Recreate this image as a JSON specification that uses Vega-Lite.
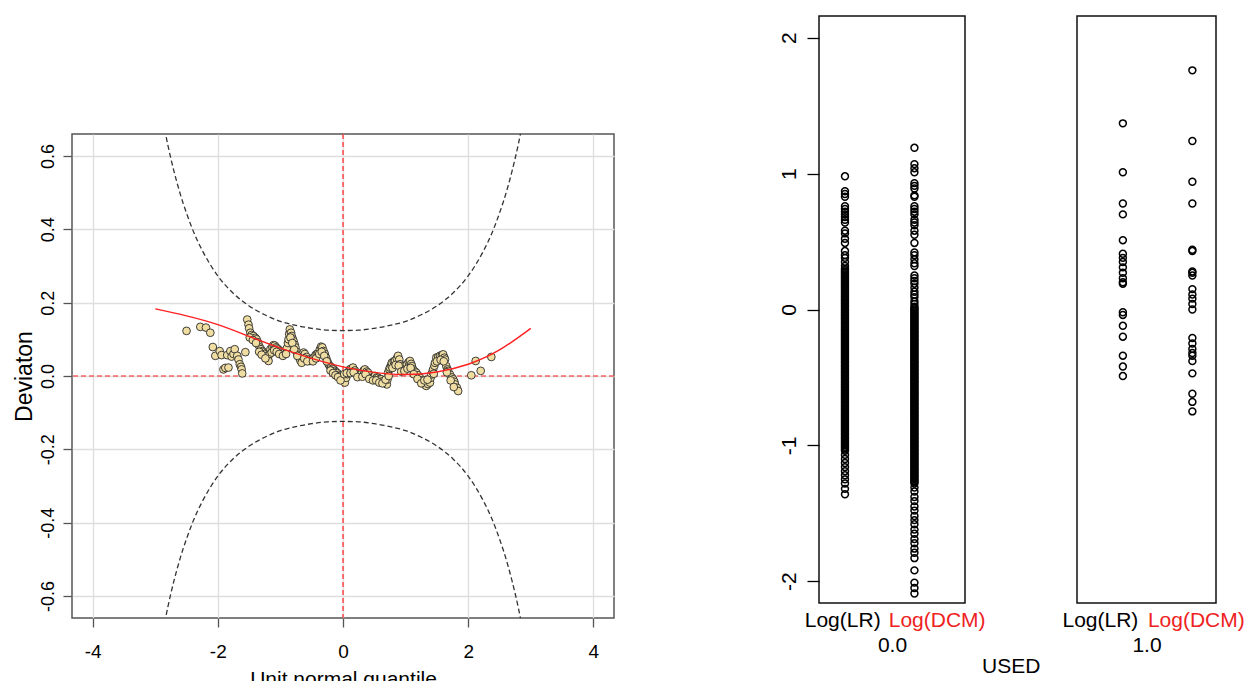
{
"$schema": "https://vega.github.io/schema/vega-lite/v6.json",
"background": "white",
"padding": {"left": 12, "top": 15, "right": 0, "bottom": 0},
"spacing": 161,
"config": {
  "font": "Liberation Sans",
  "axis": {"labelFont": "Liberation Sans", "titleFont": "Liberation Sans", "labelColor": "#000000", "titleColor": "#000000", "titleFontWeight": "normal"},
  "title": {"font": "Liberation Sans", "fontWeight": "normal", "color": "#000000"}
},
"datasets": {
  "ref": [{"x": 0, "y": 0}],
  "upper": [
    {"x": -2.85, "y": 0.673}, {"x": -2.8, "y": 0.631}, {"x": -2.7, "y": 0.558}, {"x": -2.6, "y": 0.496}, {"x": -2.5, "y": 0.444}, {"x": -2.375, "y": 0.388}, {"x": -2.25, "y": 0.343}, {"x": -2.125, "y": 0.305}, {"x": -2, "y": 0.273}, {"x": -1.75, "y": 0.225}, {"x": -1.5, "y": 0.191}, {"x": -1.25, "y": 0.167}, {"x": -1, "y": 0.149}, {"x": -0.75, "y": 0.138}, {"x": -0.5, "y": 0.13}, {"x": -0.25, "y": 0.125}, {"x": 0, "y": 0.124},
    {"x": 0.25, "y": 0.125}, {"x": 0.5, "y": 0.13}, {"x": 0.75, "y": 0.138}, {"x": 1, "y": 0.149}, {"x": 1.25, "y": 0.167}, {"x": 1.5, "y": 0.191}, {"x": 1.75, "y": 0.225}, {"x": 2, "y": 0.273}, {"x": 2.125, "y": 0.305}, {"x": 2.25, "y": 0.343}, {"x": 2.375, "y": 0.388}, {"x": 2.5, "y": 0.444}, {"x": 2.6, "y": 0.496}, {"x": 2.7, "y": 0.558}, {"x": 2.8, "y": 0.631}, {"x": 2.85, "y": 0.673}
  ],
  "lower": [
    {"x": -2.85, "y": -0.673}, {"x": -2.8, "y": -0.631}, {"x": -2.7, "y": -0.558}, {"x": -2.6, "y": -0.496}, {"x": -2.5, "y": -0.444}, {"x": -2.375, "y": -0.388}, {"x": -2.25, "y": -0.343}, {"x": -2.125, "y": -0.305}, {"x": -2, "y": -0.273}, {"x": -1.75, "y": -0.225}, {"x": -1.5, "y": -0.191}, {"x": -1.25, "y": -0.167}, {"x": -1, "y": -0.149}, {"x": -0.75, "y": -0.138}, {"x": -0.5, "y": -0.13}, {"x": -0.25, "y": -0.125}, {"x": 0, "y": -0.124},
    {"x": 0.25, "y": -0.125}, {"x": 0.5, "y": -0.13}, {"x": 0.75, "y": -0.138}, {"x": 1, "y": -0.149}, {"x": 1.25, "y": -0.167}, {"x": 1.5, "y": -0.191}, {"x": 1.75, "y": -0.225}, {"x": 2, "y": -0.273}, {"x": 2.125, "y": -0.305}, {"x": 2.25, "y": -0.343}, {"x": 2.375, "y": -0.388}, {"x": 2.5, "y": -0.444}, {"x": 2.6, "y": -0.496}, {"x": 2.7, "y": -0.558}, {"x": 2.8, "y": -0.631}, {"x": 2.85, "y": -0.673}
  ],
  "fit": [
    {"x": -3, "y": 0.183}, {"x": -2.5, "y": 0.164}, {"x": -2, "y": 0.14}, {"x": -1.5, "y": 0.108}, {"x": -1, "y": 0.076}, {"x": -0.5, "y": 0.048}, {"x": 0, "y": 0.025}, {"x": 0.5, "y": 0.01}, {"x": 1, "y": 0.004}, {"x": 1.5, "y": 0.011}, {"x": 2, "y": 0.032}, {"x": 2.5, "y": 0.071}, {"x": 3, "y": 0.13}
  ],
  "worm": [
    {"x": -2.5, "y": 0.123}, {"x": -2.28, "y": 0.134}, {"x": -2.19, "y": 0.132}, {"x": -2.12, "y": 0.118}, {"x": -2.08, "y": 0.079}, {"x": -2.04, "y": 0.055}, {"x": -1.97, "y": 0.068}, {"x": -1.94, "y": 0.057}, {"x": -1.91, "y": 0.018}, {"x": -1.88, "y": 0.022}, {"x": -1.85, "y": 0.057}, {"x": -1.83, "y": 0.023}, {"x": -1.8, "y": 0.068}, {"x": -1.78, "y": 0.053}, {"x": -1.75, "y": 0.06}, {"x": -1.73, "y": 0.073}, {"x": -1.69, "y": 0.055}, {"x": -1.67, "y": 0.045}, {"x": -1.65, "y": 0.032}, {"x": -1.63, "y": 0.025}, {"x": -1.62, "y": 0.018}, {"x": -1.61, "y": 0.007}, {"x": -1.56, "y": 0.065},
    {"x": -1.53, "y": 0.154}, {"x": -1.51, "y": 0.14}, {"x": -1.5, "y": 0.13}, {"x": -1.48, "y": 0.118}, {"x": -1.46, "y": 0.112}, {"x": -1.43, "y": 0.109}, {"x": -1.4, "y": 0.104}, {"x": -1.38, "y": 0.1}, {"x": -1.36, "y": 0.092}, {"x": -1.35, "y": 0.086}, {"x": -1.33, "y": 0.078}, {"x": -1.31, "y": 0.073}, {"x": -1.29, "y": 0.068}, {"x": -1.27, "y": 0.064}, {"x": -1.25, "y": 0.06}, {"x": -1.22, "y": 0.055}, {"x": -1.2, "y": 0.046}, {"x": -1.19, "y": 0.041}, {"x": -1.17, "y": 0.06}, {"x": -1.16, "y": 0.073}, {"x": -1.13, "y": 0.08}, {"x": -1.11, "y": 0.084}, {"x": -1.09, "y": 0.083}, {"x": -1.07, "y": 0.078}, {"x": -1.05, "y": 0.075}, {"x": -1.03, "y": 0.072}, {"x": -1.01, "y": 0.068}, {"x": -0.98, "y": 0.064}, {"x": -0.95, "y": 0.062}, {"x": -0.92, "y": 0.068}, {"x": -0.9, "y": 0.075}, {"x": -0.88, "y": 0.09}, {"x": -0.87, "y": 0.1}, {"x": -0.86, "y": 0.115}, {"x": -0.85, "y": 0.127}, {"x": -0.83, "y": 0.118}, {"x": -0.82, "y": 0.109}, {"x": -0.8, "y": 0.1}, {"x": -0.79, "y": 0.095}, {"x": -0.77, "y": 0.085}, {"x": -0.76, "y": 0.078}, {"x": -0.74, "y": 0.066}, {"x": -0.72, "y": 0.058}, {"x": -0.7, "y": 0.05}, {"x": -0.68, "y": 0.042}, {"x": -0.66, "y": 0.036}, {"x": -0.64, "y": 0.055}, {"x": -0.63, "y": 0.064}, {"x": -0.61, "y": 0.06}, {"x": -0.58, "y": 0.052}, {"x": -0.55, "y": 0.045}, {"x": -0.53, "y": 0.041}, {"x": -0.5, "y": 0.045}, {"x": -0.47, "y": 0.05}, {"x": -0.44, "y": 0.057}, {"x": -0.42, "y": 0.06}, {"x": -0.4, "y": 0.062}, {"x": -0.37, "y": 0.072}, {"x": -0.35, "y": 0.08}, {"x": -0.33, "y": 0.078}, {"x": -0.31, "y": 0.068}, {"x": -0.29, "y": 0.06}, {"x": -0.27, "y": 0.05}, {"x": -0.25, "y": 0.04}, {"x": -0.23, "y": 0.032}, {"x": -0.21, "y": 0.027}, {"x": -0.19, "y": 0.024}, {"x": -0.17, "y": 0.02}, {"x": -0.15, "y": 0.018}, {"x": -0.13, "y": 0.014}, {"x": -0.11, "y": 0.01}, {"x": -0.09, "y": 0.008}, {"x": -0.07, "y": 0.003}, {"x": -0.05, "y": 0}, {"x": -0.03, "y": -0.005}, {"x": -0.01, "y": -0.01}, {"x": 0.01, "y": -0.009}, {"x": 0.03, "y": -0.018}, {"x": 0.05, "y": -0.005}, {"x": 0.07, "y": 0.005}, {"x": 0.09, "y": 0.012}, {"x": 0.11, "y": 0.018}, {"x": 0.13, "y": 0.02}, {"x": 0.16, "y": 0.023}, {"x": 0.19, "y": 0.015}, {"x": 0.22, "y": 0.009}, {"x": 0.25, "y": 0.005}, {"x": 0.27, "y": 0.004}, {"x": 0.3, "y": 0.008}, {"x": 0.33, "y": 0.015}, {"x": 0.35, "y": 0.018}, {"x": 0.38, "y": 0.012}, {"x": 0.4, "y": 0.009}, {"x": 0.43, "y": 0.002}, {"x": 0.46, "y": -0.005}, {"x": 0.49, "y": -0.002}, {"x": 0.51, "y": 0}, {"x": 0.54, "y": -0.004}, {"x": 0.56, "y": -0.005}, {"x": 0.59, "y": -0.008}, {"x": 0.61, "y": -0.009}, {"x": 0.64, "y": -0.014}, {"x": 0.67, "y": -0.018}, {"x": 0.7, "y": -0.023}, {"x": 0.71, "y": -0.01}, {"x": 0.72, "y": 0.009}, {"x": 0.74, "y": 0.018}, {"x": 0.75, "y": 0.023}, {"x": 0.77, "y": 0.03}, {"x": 0.78, "y": 0.036}, {"x": 0.81, "y": 0.04}, {"x": 0.83, "y": 0.041}, {"x": 0.86, "y": 0.048}, {"x": 0.88, "y": 0.055}, {"x": 0.9, "y": 0.045}, {"x": 0.91, "y": 0.032}, {"x": 0.94, "y": 0.025}, {"x": 0.96, "y": 0.023}, {"x": 0.99, "y": 0.028}, {"x": 1.02, "y": 0.032}, {"x": 1.05, "y": 0.038}, {"x": 1.07, "y": 0.041}, {"x": 1.09, "y": 0.033}, {"x": 1.1, "y": 0.027}, {"x": 1.12, "y": 0.018}, {"x": 1.15, "y": 0.012}, {"x": 1.17, "y": 0.009}, {"x": 1.2, "y": 0.002}, {"x": 1.23, "y": -0.005}, {"x": 1.26, "y": -0.012}, {"x": 1.28, "y": -0.018}, {"x": 1.31, "y": -0.024}, {"x": 1.33, "y": -0.027}, {"x": 1.36, "y": -0.022}, {"x": 1.39, "y": -0.018}, {"x": 1.4, "y": -0.005}, {"x": 1.41, "y": 0.004}, {"x": 1.43, "y": 0.012}, {"x": 1.44, "y": 0.018}, {"x": 1.46, "y": 0.028}, {"x": 1.47, "y": 0.036}, {"x": 1.49, "y": 0.05}, {"x": 1.52, "y": 0.052}, {"x": 1.55, "y": 0.055}, {"x": 1.58, "y": 0.057}, {"x": 1.6, "y": 0.059}, {"x": 1.62, "y": 0.05}, {"x": 1.63, "y": 0.045}, {"x": 1.65, "y": 0.027}, {"x": 1.67, "y": 0.018}, {"x": 1.68, "y": 0.014}, {"x": 1.71, "y": 0.004}, {"x": 1.74, "y": -0.004}, {"x": 1.76, "y": -0.009}, {"x": 1.78, "y": -0.016}, {"x": 1.79, "y": -0.023}, {"x": 1.82, "y": -0.032}, {"x": 1.84, "y": -0.041},
    {"x": 2.05, "y": 0.002}, {"x": 2.12, "y": 0.041}, {"x": 2.2, "y": 0.014}, {"x": 2.37, "y": 0.052},
    {"x": -1.49, "y": 0.105}, {"x": -1.44, "y": 0.098}, {"x": -1.39, "y": 0.09}, {"x": -1.34, "y": 0.066}, {"x": -1.3, "y": 0.058}, {"x": -1.24, "y": 0.048}, {"x": -1.14, "y": 0.064}, {"x": -1.1, "y": 0.07}, {"x": -1.06, "y": 0.066}, {"x": -1.02, "y": 0.06}, {"x": -0.96, "y": 0.055}, {"x": -0.91, "y": 0.06}, {"x": -0.84, "y": 0.105}, {"x": -0.81, "y": 0.09}, {"x": -0.78, "y": 0.072}, {"x": -0.73, "y": 0.055}, {"x": -0.62, "y": 0.048}, {"x": -0.57, "y": 0.04}, {"x": -0.48, "y": 0.04}, {"x": -0.43, "y": 0.048}, {"x": -0.38, "y": 0.06}, {"x": -0.34, "y": 0.066}, {"x": -0.3, "y": 0.055}, {"x": -0.26, "y": 0.04}, {"x": -0.2, "y": 0.015}, {"x": -0.16, "y": 0.008}, {"x": -0.12, "y": 0.002}, {"x": -0.08, "y": -0.003}, {"x": -0.04, "y": -0.012}, {"x": 0.02, "y": 0.005}, {"x": 0.06, "y": 0.008}, {"x": 0.12, "y": 0.008}, {"x": 0.17, "y": 0.01}, {"x": 0.23, "y": -0.003}, {"x": 0.31, "y": -0.002}, {"x": 0.36, "y": 0.005}, {"x": 0.42, "y": -0.008}, {"x": 0.48, "y": -0.012}, {"x": 0.53, "y": -0.012}, {"x": 0.58, "y": -0.018}, {"x": 0.63, "y": -0.02}, {"x": 0.68, "y": -0.01}, {"x": 0.73, "y": 0}, {"x": 0.79, "y": 0.022}, {"x": 0.84, "y": 0.03}, {"x": 0.89, "y": 0.028}, {"x": 0.93, "y": 0.012}, {"x": 0.98, "y": 0.014}, {"x": 1.03, "y": 0.02}, {"x": 1.08, "y": 0.022}, {"x": 1.13, "y": 0.005}, {"x": 1.19, "y": -0.008}, {"x": 1.25, "y": -0.02}, {"x": 1.3, "y": -0.012}, {"x": 1.35, "y": -0.01}, {"x": 1.45, "y": 0.006}, {"x": 1.5, "y": 0.04}, {"x": 1.56, "y": 0.044}, {"x": 1.61, "y": 0.04}, {"x": 1.66, "y": 0.01}, {"x": 1.72, "y": -0.012}, {"x": 1.77, "y": -0.03}
  ],
  "used0": [
    {"g": 1, "v": 0.98}, {"g": 1, "v": 0.87}, {"g": 1, "v": 0.85}, {"g": 1, "v": 0.83}, {"g": 1, "v": 0.76}, {"g": 1, "v": 0.74}, {"g": 1, "v": 0.72}, {"g": 1, "v": 0.7}, {"g": 1, "v": 0.68}, {"g": 1, "v": 0.66}, {"g": 1, "v": 0.64}, {"g": 1, "v": 0.58}, {"g": 1, "v": 0.56}, {"g": 1, "v": 0.52}, {"g": 1, "v": 0.49}, {"g": 1, "v": 0.43}, {"g": 1, "v": 0.4}, {"g": 1, "v": 0.38}, {"g": 1, "v": 0.35}, {"g": 1, "v": 0.32},
    {"g": 1, "v": 0.3}, {"g": 1, "v": 0.29}, {"g": 1, "v": 0.28}, {"g": 1, "v": 0.27}, {"g": 1, "v": 0.26}, {"g": 1, "v": 0.25}, {"g": 1, "v": 0.24}, {"g": 1, "v": 0.23}, {"g": 1, "v": 0.22}, {"g": 1, "v": 0.21},
    {"g": 1, "v": 0.2}, {"g": 1, "v": 0.19}, {"g": 1, "v": 0.18}, {"g": 1, "v": 0.17}, {"g": 1, "v": 0.16}, {"g": 1, "v": 0.15}, {"g": 1, "v": 0.14}, {"g": 1, "v": 0.13}, {"g": 1, "v": 0.12}, {"g": 1, "v": 0.11},
    {"g": 1, "v": 0.1}, {"g": 1, "v": 0.09}, {"g": 1, "v": 0.08}, {"g": 1, "v": 0.07}, {"g": 1, "v": 0.06}, {"g": 1, "v": 0.05}, {"g": 1, "v": 0.04}, {"g": 1, "v": 0.03}, {"g": 1, "v": 0.02}, {"g": 1, "v": 0.01},
    {"g": 1, "v": 0}, {"g": 1, "v": -0.01}, {"g": 1, "v": -0.02}, {"g": 1, "v": -0.03}, {"g": 1, "v": -0.04}, {"g": 1, "v": -0.05}, {"g": 1, "v": -0.06}, {"g": 1, "v": -0.07}, {"g": 1, "v": -0.08}, {"g": 1, "v": -0.09},
    {"g": 1, "v": -0.1}, {"g": 1, "v": -0.11}, {"g": 1, "v": -0.12}, {"g": 1, "v": -0.13}, {"g": 1, "v": -0.14}, {"g": 1, "v": -0.15}, {"g": 1, "v": -0.16}, {"g": 1, "v": -0.17}, {"g": 1, "v": -0.18}, {"g": 1, "v": -0.19},
    {"g": 1, "v": -0.2}, {"g": 1, "v": -0.21}, {"g": 1, "v": -0.22}, {"g": 1, "v": -0.23}, {"g": 1, "v": -0.24}, {"g": 1, "v": -0.25}, {"g": 1, "v": -0.26}, {"g": 1, "v": -0.27}, {"g": 1, "v": -0.28}, {"g": 1, "v": -0.29},
    {"g": 1, "v": -0.3}, {"g": 1, "v": -0.31}, {"g": 1, "v": -0.32}, {"g": 1, "v": -0.33}, {"g": 1, "v": -0.34}, {"g": 1, "v": -0.35}, {"g": 1, "v": -0.36}, {"g": 1, "v": -0.37}, {"g": 1, "v": -0.38}, {"g": 1, "v": -0.39},
    {"g": 1, "v": -0.4}, {"g": 1, "v": -0.41}, {"g": 1, "v": -0.42}, {"g": 1, "v": -0.43}, {"g": 1, "v": -0.44}, {"g": 1, "v": -0.45}, {"g": 1, "v": -0.46}, {"g": 1, "v": -0.47}, {"g": 1, "v": -0.48}, {"g": 1, "v": -0.49},
    {"g": 1, "v": -0.5}, {"g": 1, "v": -0.51}, {"g": 1, "v": -0.52}, {"g": 1, "v": -0.53}, {"g": 1, "v": -0.54}, {"g": 1, "v": -0.55}, {"g": 1, "v": -0.56}, {"g": 1, "v": -0.57}, {"g": 1, "v": -0.58}, {"g": 1, "v": -0.59},
    {"g": 1, "v": -0.6}, {"g": 1, "v": -0.61}, {"g": 1, "v": -0.62}, {"g": 1, "v": -0.63}, {"g": 1, "v": -0.64}, {"g": 1, "v": -0.65}, {"g": 1, "v": -0.66}, {"g": 1, "v": -0.67}, {"g": 1, "v": -0.68}, {"g": 1, "v": -0.69},
    {"g": 1, "v": -0.7}, {"g": 1, "v": -0.71}, {"g": 1, "v": -0.72}, {"g": 1, "v": -0.73}, {"g": 1, "v": -0.74}, {"g": 1, "v": -0.75}, {"g": 1, "v": -0.76}, {"g": 1, "v": -0.77}, {"g": 1, "v": -0.78}, {"g": 1, "v": -0.79},
    {"g": 1, "v": -0.8}, {"g": 1, "v": -0.81}, {"g": 1, "v": -0.82}, {"g": 1, "v": -0.83}, {"g": 1, "v": -0.84}, {"g": 1, "v": -0.85}, {"g": 1, "v": -0.86}, {"g": 1, "v": -0.87}, {"g": 1, "v": -0.88}, {"g": 1, "v": -0.89},
    {"g": 1, "v": -0.9}, {"g": 1, "v": -0.91}, {"g": 1, "v": -0.92}, {"g": 1, "v": -0.93}, {"g": 1, "v": -0.94}, {"g": 1, "v": -0.95}, {"g": 1, "v": -0.96}, {"g": 1, "v": -0.97}, {"g": 1, "v": -0.98}, {"g": 1, "v": -0.99},
    {"g": 1, "v": -1}, {"g": 1, "v": -1.01}, {"g": 1, "v": -1.02}, {"g": 1, "v": -1.03}, {"g": 1, "v": -1.04},
    {"g": 1, "v": -1.07}, {"g": 1, "v": -1.1}, {"g": 1, "v": -1.13}, {"g": 1, "v": -1.16}, {"g": 1, "v": -1.19}, {"g": 1, "v": -1.22}, {"g": 1, "v": -1.25}, {"g": 1, "v": -1.28}, {"g": 1, "v": -1.32}, {"g": 1, "v": -1.36},
    {"g": 2, "v": 1.19}, {"g": 2, "v": 1.07}, {"g": 2, "v": 1.04}, {"g": 2, "v": 1.01}, {"g": 2, "v": 0.93}, {"g": 2, "v": 0.91}, {"g": 2, "v": 0.89}, {"g": 2, "v": 0.84}, {"g": 2, "v": 0.83}, {"g": 2, "v": 0.76}, {"g": 2, "v": 0.74}, {"g": 2, "v": 0.72}, {"g": 2, "v": 0.7}, {"g": 2, "v": 0.66}, {"g": 2, "v": 0.64}, {"g": 2, "v": 0.62}, {"g": 2, "v": 0.58}, {"g": 2, "v": 0.55}, {"g": 2, "v": 0.49}, {"g": 2, "v": 0.42}, {"g": 2, "v": 0.4}, {"g": 2, "v": 0.37}, {"g": 2, "v": 0.34}, {"g": 2, "v": 0.32}, {"g": 2, "v": 0.25}, {"g": 2, "v": 0.23}, {"g": 2, "v": 0.21}, {"g": 2, "v": 0.19}, {"g": 2, "v": 0.16}, {"g": 2, "v": 0.13}, {"g": 2, "v": 0.11}, {"g": 2, "v": 0.09}, {"g": 2, "v": 0.06}, {"g": 2, "v": 0.04},
    {"g": 2, "v": 0.02}, {"g": 2, "v": 0.01},
    {"g": 2, "v": 0}, {"g": 2, "v": -0.01}, {"g": 2, "v": -0.02}, {"g": 2, "v": -0.03}, {"g": 2, "v": -0.04}, {"g": 2, "v": -0.05}, {"g": 2, "v": -0.06}, {"g": 2, "v": -0.07}, {"g": 2, "v": -0.08}, {"g": 2, "v": -0.09},
    {"g": 2, "v": -0.1}, {"g": 2, "v": -0.11}, {"g": 2, "v": -0.12}, {"g": 2, "v": -0.13}, {"g": 2, "v": -0.14}, {"g": 2, "v": -0.15}, {"g": 2, "v": -0.16}, {"g": 2, "v": -0.17}, {"g": 2, "v": -0.18}, {"g": 2, "v": -0.19},
    {"g": 2, "v": -0.2}, {"g": 2, "v": -0.21}, {"g": 2, "v": -0.22}, {"g": 2, "v": -0.23}, {"g": 2, "v": -0.24}, {"g": 2, "v": -0.25}, {"g": 2, "v": -0.26}, {"g": 2, "v": -0.27}, {"g": 2, "v": -0.28}, {"g": 2, "v": -0.29},
    {"g": 2, "v": -0.3}, {"g": 2, "v": -0.31}, {"g": 2, "v": -0.32}, {"g": 2, "v": -0.33}, {"g": 2, "v": -0.34}, {"g": 2, "v": -0.35}, {"g": 2, "v": -0.36}, {"g": 2, "v": -0.37}, {"g": 2, "v": -0.38}, {"g": 2, "v": -0.39},
    {"g": 2, "v": -0.4}, {"g": 2, "v": -0.41}, {"g": 2, "v": -0.42}, {"g": 2, "v": -0.43}, {"g": 2, "v": -0.44}, {"g": 2, "v": -0.45}, {"g": 2, "v": -0.46}, {"g": 2, "v": -0.47}, {"g": 2, "v": -0.48}, {"g": 2, "v": -0.49},
    {"g": 2, "v": -0.5}, {"g": 2, "v": -0.51}, {"g": 2, "v": -0.52}, {"g": 2, "v": -0.53}, {"g": 2, "v": -0.54}, {"g": 2, "v": -0.55}, {"g": 2, "v": -0.56}, {"g": 2, "v": -0.57}, {"g": 2, "v": -0.58}, {"g": 2, "v": -0.59},
    {"g": 2, "v": -0.6}, {"g": 2, "v": -0.61}, {"g": 2, "v": -0.62}, {"g": 2, "v": -0.63}, {"g": 2, "v": -0.64}, {"g": 2, "v": -0.65}, {"g": 2, "v": -0.66}, {"g": 2, "v": -0.67}, {"g": 2, "v": -0.68}, {"g": 2, "v": -0.69},
    {"g": 2, "v": -0.7}, {"g": 2, "v": -0.71}, {"g": 2, "v": -0.72}, {"g": 2, "v": -0.73}, {"g": 2, "v": -0.74}, {"g": 2, "v": -0.75}, {"g": 2, "v": -0.76}, {"g": 2, "v": -0.77}, {"g": 2, "v": -0.78}, {"g": 2, "v": -0.79},
    {"g": 2, "v": -0.8}, {"g": 2, "v": -0.81}, {"g": 2, "v": -0.82}, {"g": 2, "v": -0.83}, {"g": 2, "v": -0.84}, {"g": 2, "v": -0.85}, {"g": 2, "v": -0.86}, {"g": 2, "v": -0.87}, {"g": 2, "v": -0.88}, {"g": 2, "v": -0.89},
    {"g": 2, "v": -0.9}, {"g": 2, "v": -0.91}, {"g": 2, "v": -0.92}, {"g": 2, "v": -0.93}, {"g": 2, "v": -0.94}, {"g": 2, "v": -0.95}, {"g": 2, "v": -0.96}, {"g": 2, "v": -0.97}, {"g": 2, "v": -0.98}, {"g": 2, "v": -0.99},
    {"g": 2, "v": -1}, {"g": 2, "v": -1.01}, {"g": 2, "v": -1.02}, {"g": 2, "v": -1.03}, {"g": 2, "v": -1.04}, {"g": 2, "v": -1.05}, {"g": 2, "v": -1.06}, {"g": 2, "v": -1.07}, {"g": 2, "v": -1.08}, {"g": 2, "v": -1.09},
    {"g": 2, "v": -1.1}, {"g": 2, "v": -1.11}, {"g": 2, "v": -1.12}, {"g": 2, "v": -1.13}, {"g": 2, "v": -1.14}, {"g": 2, "v": -1.15}, {"g": 2, "v": -1.16}, {"g": 2, "v": -1.17}, {"g": 2, "v": -1.18}, {"g": 2, "v": -1.19},
    {"g": 2, "v": -1.2}, {"g": 2, "v": -1.21}, {"g": 2, "v": -1.22}, {"g": 2, "v": -1.23}, {"g": 2, "v": -1.24}, {"g": 2, "v": -1.25}, {"g": 2, "v": -1.26}, {"g": 2, "v": -1.27}, {"g": 2, "v": -1.28},
    {"g": 2, "v": -1.31}, {"g": 2, "v": -1.34}, {"g": 2, "v": -1.38}, {"g": 2, "v": -1.41}, {"g": 2, "v": -1.45}, {"g": 2, "v": -1.48}, {"g": 2, "v": -1.52}, {"g": 2, "v": -1.55}, {"g": 2, "v": -1.58}, {"g": 2, "v": -1.62}, {"g": 2, "v": -1.65}, {"g": 2, "v": -1.69}, {"g": 2, "v": -1.72}, {"g": 2, "v": -1.76}, {"g": 2, "v": -1.79}, {"g": 2, "v": -1.83}, {"g": 2, "v": -1.92}, {"g": 2, "v": -2.01}, {"g": 2, "v": -2.05}, {"g": 2, "v": -2.09}
  ],
  "used1": [
    {"g": 5, "v": 1.37}, {"g": 5, "v": 1.01}, {"g": 5, "v": 0.78}, {"g": 5, "v": 0.7}, {"g": 5, "v": 0.51}, {"g": 5, "v": 0.41}, {"g": 5, "v": 0.38}, {"g": 5, "v": 0.35}, {"g": 5, "v": 0.31}, {"g": 5, "v": 0.27}, {"g": 5, "v": 0.23}, {"g": 5, "v": 0.2}, {"g": 5, "v": 0.19}, {"g": 5, "v": -0.02}, {"g": 5, "v": -0.04}, {"g": 5, "v": -0.12}, {"g": 5, "v": -0.2}, {"g": 5, "v": -0.34}, {"g": 5, "v": -0.42}, {"g": 5, "v": -0.49},
    {"g": 6, "v": 1.76}, {"g": 6, "v": 1.24}, {"g": 6, "v": 0.94}, {"g": 6, "v": 0.78}, {"g": 6, "v": 0.44}, {"g": 6, "v": 0.43}, {"g": 6, "v": 0.28}, {"g": 6, "v": 0.27}, {"g": 6, "v": 0.25}, {"g": 6, "v": 0.15}, {"g": 6, "v": 0.11}, {"g": 6, "v": 0.08}, {"g": 6, "v": 0.04}, {"g": 6, "v": 0}, {"g": 6, "v": -0.21}, {"g": 6, "v": -0.25}, {"g": 6, "v": -0.29}, {"g": 6, "v": -0.32}, {"g": 6, "v": -0.34}, {"g": 6, "v": -0.38}, {"g": 6, "v": -0.47}, {"g": 6, "v": -0.62}, {"g": 6, "v": -0.68}, {"g": 6, "v": -0.75}
  ]
},
"hconcat": [
  {
    "spacing": 0,
    "vconcat": [
      {
        "width": 542,
        "height": 116,
        "view": {"stroke": null},
        "data": {"name": "ref"},
        "mark": {"type": "text", "text": ""},
        "encoding": {}
      },
      {
        "width": 542,
        "height": 484,
        "view": {"stroke": "#555555", "strokeWidth": 1.5},
        "layer": [
          {
            "data": {"name": "ref"},
            "mark": {"type": "rule", "color": "#ff2020", "strokeDash": [5, 3], "strokeWidth": 1.2},
            "encoding": {
              "x": {"field": "x", "type": "quantitative", "scale": {"domain": [-4.33, 4.33], "nice": false, "zero": false},
                "axis": {"values": [-4, -2, 0, 2, 4], "format": "d", "labelExpr": "replace(datum.label, '\u2212', '-')", "title": "Unit normal quantile", "grid": true, "gridColor": "#dedede", "gridWidth": 1.3, "domain": false, "tickSize": 9, "tickColor": "#555555", "tickWidth": 1.3, "labelFontSize": 19, "labelPadding": 15, "labelFlush": false, "labelOverlap": false, "titleFontSize": 21, "titlePadding": 7}}
            }
          },
          {
            "data": {"name": "ref"},
            "mark": {"type": "rule", "color": "#ff2020", "strokeDash": [5, 3], "strokeWidth": 1.2},
            "encoding": {
              "y": {"field": "y", "type": "quantitative", "scale": {"domain": [-0.66, 0.66], "nice": false, "zero": false},
                "axis": {"values": [-0.6, -0.4, -0.2, 0, 0.2, 0.4, 0.6], "format": ".1f", "labelExpr": "replace(datum.label, '\u2212', '-')", "title": "Deviaton", "grid": true, "gridColor": "#dedede", "gridWidth": 1.3, "domain": false, "tickSize": 9, "tickColor": "#555555", "tickWidth": 1.3, "labelFontSize": 18, "labelAngle": 270, "labelAlign": "center", "labelBaseline": "alphabetic", "labelPadding": 10, "labelFlush": false, "labelOverlap": false, "titleFontSize": 23, "titlePadding": 3}}
            }
          },
          {
            "data": {"name": "upper"},
            "mark": {"type": "line", "color": "#333333", "strokeDash": [5, 3], "strokeWidth": 1.3, "clip": true, "interpolate": "monotone"},
            "encoding": {
              "x": {"field": "x", "type": "quantitative", "scale": {"domain": [-4.33, 4.33], "nice": false, "zero": false}},
              "y": {"field": "y", "type": "quantitative", "scale": {"domain": [-0.66, 0.66], "nice": false, "zero": false}}
            }
          },
          {
            "data": {"name": "lower"},
            "mark": {"type": "line", "color": "#333333", "strokeDash": [5, 3], "strokeWidth": 1.3, "clip": true, "interpolate": "monotone"},
            "encoding": {
              "x": {"field": "x", "type": "quantitative", "scale": {"domain": [-4.33, 4.33], "nice": false, "zero": false}},
              "y": {"field": "y", "type": "quantitative", "scale": {"domain": [-0.66, 0.66], "nice": false, "zero": false}}
            }
          },
          {
            "data": {"name": "worm"},
            "mark": {"type": "point", "shape": "circle", "filled": true, "fill": "#EFDDA2", "stroke": "#2a2a2a", "strokeWidth": 0.9, "size": 60, "opacity": 1},
            "encoding": {
              "x": {"field": "x", "type": "quantitative", "scale": {"domain": [-4.33, 4.33], "nice": false, "zero": false}},
              "y": {"field": "y", "type": "quantitative", "scale": {"domain": [-0.66, 0.66], "nice": false, "zero": false}}
            }
          },
          {
            "data": {"name": "fit"},
            "mark": {"type": "line", "color": "#ff2020", "strokeWidth": 1.4, "interpolate": "natural"},
            "encoding": {
              "x": {"field": "x", "type": "quantitative", "scale": {"domain": [-4.33, 4.33], "nice": false, "zero": false}},
              "y": {"field": "y", "type": "quantitative", "scale": {"domain": [-0.66, 0.66], "nice": false, "zero": false}}
            }
          }
        ]
      }
    ]
  },
  {
    "spacing": 112,
    "bounds": "flush",
    "title": {"text": "USED", "orient": "bottom", "anchor": "middle", "fontSize": 21, "fontWeight": "normal", "color": "#000000", "offset": 0},
    "hconcat": [
      {
        "width": 146,
        "height": 587,
        "data": {"name": "used0"},
        "view": {"stroke": "#111111", "strokeWidth": 1.5},
        "mark": {"type": "point", "shape": "circle", "filled": false, "color": "#000000", "strokeWidth": 1.5, "size": 48, "opacity": 1},
        "encoding": {
          "x": {"field": "g", "type": "quantitative", "scale": {"domain": [0.626, 2.728], "nice": false, "zero": false},
            "axis": {"values": [0.96, 2.32], "labelExpr": "datum.value < 1.5 ? 'Log(LR)' : 'Log(DCM)'", "labelColor": {"condition": {"test": "datum.value > 1.5", "value": "#ee2222"}, "value": "#000000"}, "ticks": false, "tickSize": 0, "domain": false, "grid": false, "labelFontSize": 21, "labelPadding": 6, "labelOverlap": false, "labelFlush": false, "title": "0.0", "titleFontSize": 21, "titlePadding": 4}},
          "y": {"field": "v", "type": "quantitative", "scale": {"domain": [-2.16, 2.16], "nice": false, "zero": false},
            "axis": {"values": [-2, -1, 0, 1, 2], "format": "d", "labelExpr": "replace(datum.label, '\u2212', '-')", "labelAngle": 270, "labelAlign": "center", "labelBaseline": "alphabetic", "labelFontSize": 21, "labelPadding": 12, "tickSize": 12, "tickColor": "#000000", "tickWidth": 1.3, "domain": false, "grid": false, "title": null, "labelOverlap": false, "labelFlush": false}}
        }
      },
      {
        "width": 139,
        "height": 587,
        "data": {"name": "used1"},
        "view": {"stroke": "#111111", "strokeWidth": 1.5},
        "mark": {"type": "point", "shape": "circle", "filled": false, "color": "#000000", "strokeWidth": 1.5, "size": 48, "opacity": 1},
        "encoding": {
          "x": {"field": "g", "type": "quantitative", "scale": {"domain": [4.34, 6.34], "nice": false, "zero": false},
            "axis": {"values": [4.67, 6.05], "labelExpr": "datum.value < 5.3 ? 'Log(LR)' : 'Log(DCM)'", "labelColor": {"condition": {"test": "datum.value > 5.3", "value": "#ee2222"}, "value": "#000000"}, "ticks": false, "tickSize": 0, "domain": false, "grid": false, "labelFontSize": 21, "labelPadding": 6, "labelOverlap": false, "labelFlush": false, "title": "1.0", "titleFontSize": 21, "titlePadding": 4}},
          "y": {"field": "v", "type": "quantitative", "scale": {"domain": [-2.16, 2.16], "nice": false, "zero": false}, "axis": null}
        }
      }
    ]
  }
]
}
